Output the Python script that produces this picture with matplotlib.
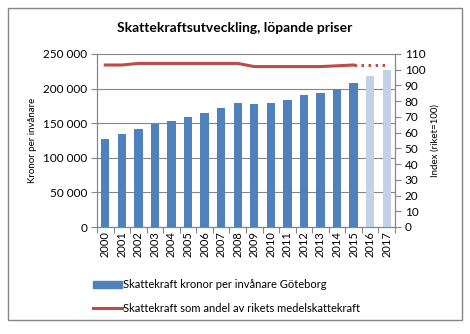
import matplotlib.pyplot as plt
from matplotlib.lines import Line2D
from matplotlib.patches import Patch, Rectangle
import numpy as np

plt.rcParams['font.family'] = ['Lato', 'DejaVu Sans']

years = ['2000', '2001', '2002', '2003', '2004', '2005', '2006', '2007', '2008',
         '2009', '2010', '2011', '2012', '2013', '2014', '2015', '2016', '2017']
kronor = [126500, 135000, 142000, 149000, 152500, 158500, 164500, 171500, 178500,
          177800, 179000, 183500, 190500, 193700, 200000, 208300, 218500, 227300]
prognos = [False] * 16 + [True, True]
index_vals = [103, 103, 104, 104, 104, 104, 104, 104, 104,
              102, 102, 102, 102, 102, 102.5, 103]
index_prog = [103, 103, 103]

fig = plt.figure(figsize=(4.7, 3.34), dpi=100)
fig.patches.append(Rectangle((8 / 470, 1 - 320 / 334), 454 / 470, 312 / 334,
                             transform=fig.transFigure, fill=False,
                             edgecolor='#868686', linewidth=1))
ax = fig.add_axes([97 / 470, 1 - 227 / 334, 298 / 470, 173 / 334])
ax2 = ax.twinx()

x = np.arange(len(years))
colors = ['#c3d0e8' if p else '#4f81bd' for p in prognos]
ax.bar(x, kronor, width=0.5, color=colors, zorder=3)
ax.set_ylim(0, 250000)
ax.set_xlim(-0.5, len(years) - 0.5)
yt = list(range(0, 250001, 50000))
ax.set_yticks(yt)
ax.set_yticklabels([f'{v:,}'.replace(',', ' ') if v else '0' for v in yt])
ax.grid(axis='y', color='#868686', linewidth=0.8, zorder=0)
ax.set_axisbelow(True)

ax.set_xticks(np.arange(-0.5, len(years), 1))
ax.set_xticklabels([])
ax.set_xticks(x, minor=True)
ax.set_xticklabels(years, minor=True, rotation=90)
ax.tick_params(axis='x', which='minor', length=0, labelsize=8, pad=3)
ax.tick_params(axis='x', which='major', length=4, color='#868686')
ax.tick_params(axis='y', labelsize=8.5, length=4, color='#868686', pad=3)
ax.set_ylabel('Kronor per invånare', fontsize=7)

ax2.plot(x[:16], index_vals, color='#be4b48', linewidth=2.2, zorder=4)
ax2.plot(x[15:], index_prog, color='#be4b48', linewidth=2.2, linestyle=(0, (0.8, 1.5)), zorder=4)
ax2.set_ylim(0, 110)
ax2.set_yticks(range(0, 111, 10))
ax2.tick_params(axis='y', labelsize=8.5, length=4, color='#868686', pad=3)
ax2.set_ylabel('Index (riket=100)', fontsize=7)

for a in (ax, ax2):
    a.spines['top'].set_visible(False)
    for s in ['left', 'right', 'bottom']:
        a.spines[s].set_color('#868686')

fig.text(0.5, 1 - 28 / 334, 'Skattekraftsutveckling, löpande priser',
         ha='center', va='center', fontsize=10, fontweight='bold')

handles = [Patch(color='#4f81bd'),
           Line2D([0], [0], color='#be4b48', linewidth=2.2)]
labels = ['Skattekraft kronor per invånare Göteborg',
          'Skattekraft som andel av rikets medelskattekraft']
fig.legend(handles, labels, loc='upper left', bbox_to_anchor=(89 / 470, 1 - 275 / 334),
           frameon=False, fontsize=8, handlelength=2.6, handleheight=0.5,
           handletextpad=0.1, labelspacing=1.1, borderaxespad=0)

fig.savefig('out.png', dpi=100)
